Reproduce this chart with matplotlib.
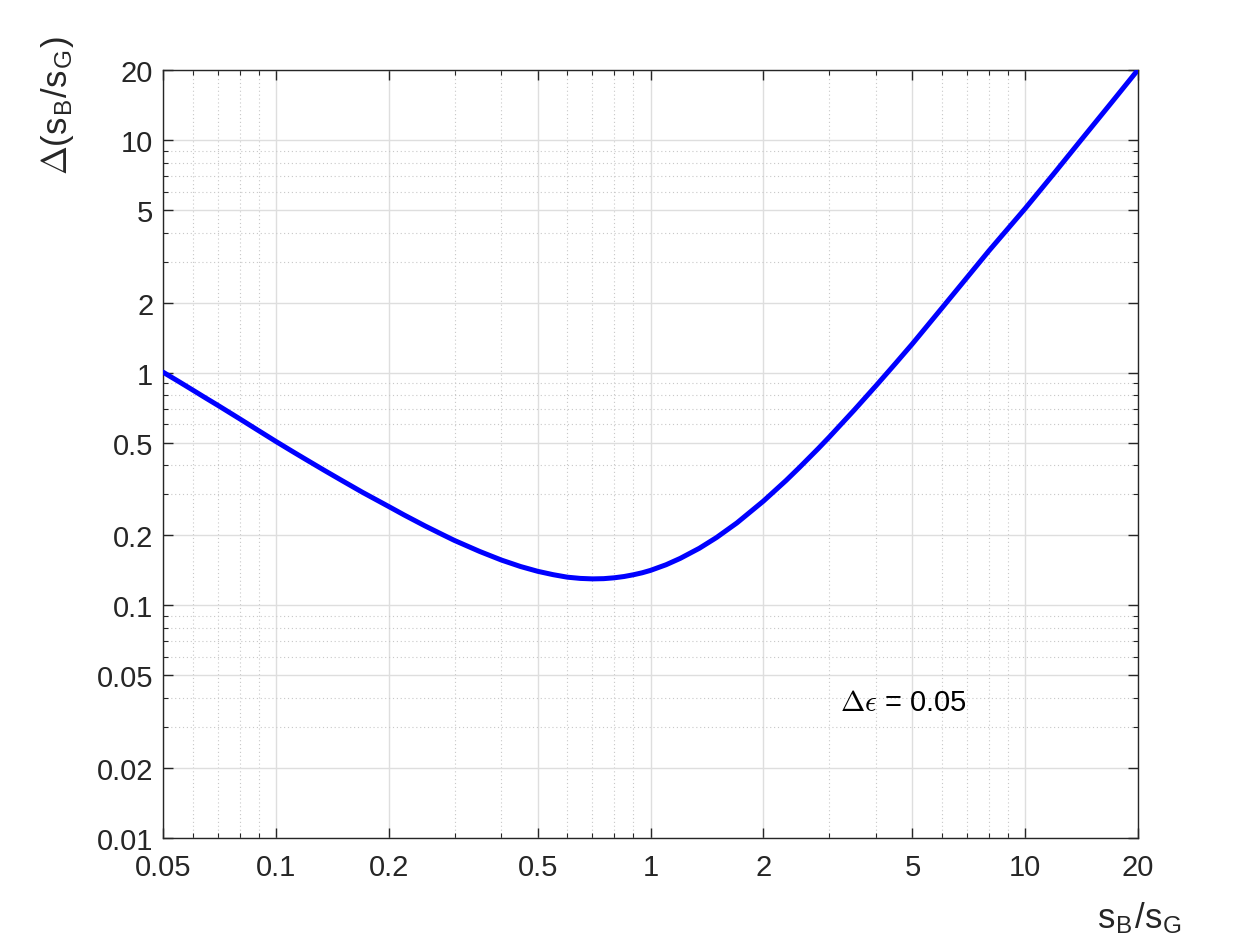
import numpy as np
import matplotlib
matplotlib.use("Agg")
import matplotlib.pyplot as plt
from matplotlib.ticker import FixedLocator, LogLocator, NullFormatter

plt.rcParams['font.family'] = ['Liberation Sans', 'DejaVu Sans']
plt.rcParams['mathtext.fontset'] = 'cm'

# values
ratio = [0.05, 0.055, 0.06, 0.065, 0.07, 0.075, 0.08, 0.09, 0.1, 0.11, 0.12, 0.135,
         0.15, 0.17, 0.2, 0.22, 0.25, 0.28, 0.3, 0.35, 0.4, 0.45, 0.5, 0.55, 0.6,
         0.65, 0.7, 0.75, 0.8, 0.85, 0.9, 0.95, 1.0, 1.1, 1.2, 1.35, 1.5, 1.7, 2.0,
         2.3, 2.5, 2.8, 3.0, 3.5, 4.0, 4.5, 5.0, 6.0, 7.0, 8.0, 10.0, 12.0, 14.0,
         17.0, 20.0]
delta = [1.005, 0.917, 0.842, 0.778, 0.724, 0.676, 0.634, 0.563, 0.5065, 0.4615, 0.4245, 0.3795,
         0.344, 0.3065, 0.266, 0.2445, 0.2195, 0.2005, 0.1899, 0.1704, 0.1565, 0.1468, 0.1400,
         0.1354, 0.1321, 0.1305, 0.1299, 0.1302, 0.1313, 0.1330, 0.1353, 0.1380, 0.1413, 0.1494,
         0.1591, 0.1759, 0.1956, 0.2260, 0.2803, 0.344, 0.392, 0.471, 0.529, 0.692, 0.880, 1.093,
         1.331, 1.90, 2.57, 3.34, 5.08, 7.26, 9.87, 14.5, 20.05]

xticks = [0.05, 0.1, 0.2, 0.5, 1, 2, 5, 10, 20]
xlabels = ['0.05', '0.1', '0.2', '0.5', '1', '2', '5', '10', '20']
yticks = [0.01, 0.02, 0.05, 0.1, 0.2, 0.5, 1, 2, 5, 10, 20]
ylabels = ['0.01', '0.02', '0.05', '0.1', '0.2', '0.5', '1', '2', '5', '10', '20']

fig = plt.figure(figsize=(12.6, 9.45), dpi=100)
ax = fig.add_axes([0.1294, 0.1122, 0.7738, 0.8127])

ax.loglog(ratio, delta, color=(0, 0, 1), lw=3.6, solid_capstyle='round',
          solid_joinstyle='round', zorder=5)

ax.set_xlim(0.05, 20)
ax.set_ylim(0.01, 20)

ax.xaxis.set_major_locator(FixedLocator(xticks))
ax.set_xticklabels(xlabels)
ax.yaxis.set_major_locator(FixedLocator(yticks))
ax.set_yticklabels(ylabels)
ax.xaxis.set_minor_locator(LogLocator(base=10, subs=np.arange(1, 10)))
ax.yaxis.set_minor_locator(LogLocator(base=10, subs=np.arange(1, 10)))
ax.xaxis.set_minor_formatter(NullFormatter())
ax.yaxis.set_minor_formatter(NullFormatter())

ax.grid(which='major', color='#dedede', lw=1.0, ls='-')
ax.grid(which='minor', color='#c8c8c8', lw=0.8, ls=(0, (1, 2.5)))
ax.set_axisbelow(True)

ax.tick_params(which='both', direction='in', top=True, right=True,
               colors='#262626', labelsize=21)
ax.tick_params(which='major', length=7, width=1)
ax.tick_params(which='minor', length=3.5, width=0.8)
ax.tick_params(axis='x', pad=11)
ax.tick_params(axis='y', pad=7)
for s in ax.spines.values():
    s.set_color('#262626')
    s.set_linewidth(1)

ax.text(3.2, 0.0385, r'$\Delta\epsilon$ = 0.05', fontsize=21, color='k', va='center')

fig.text(57 / 1260, 1 - 105 / 945,
         r'$\Delta$(s$_\mathregular{B}$/s$_\mathregular{G}$)',
         rotation=90, fontsize=25, ha='center', va='center', color='#262626')
fig.text(1140 / 1260, 1 - 918 / 945,
         r's$_\mathregular{B}$/s$_\mathregular{G}$',
         fontsize=25, ha='center', va='center', color='#262626')

fig.savefig('out.png', dpi=100)
